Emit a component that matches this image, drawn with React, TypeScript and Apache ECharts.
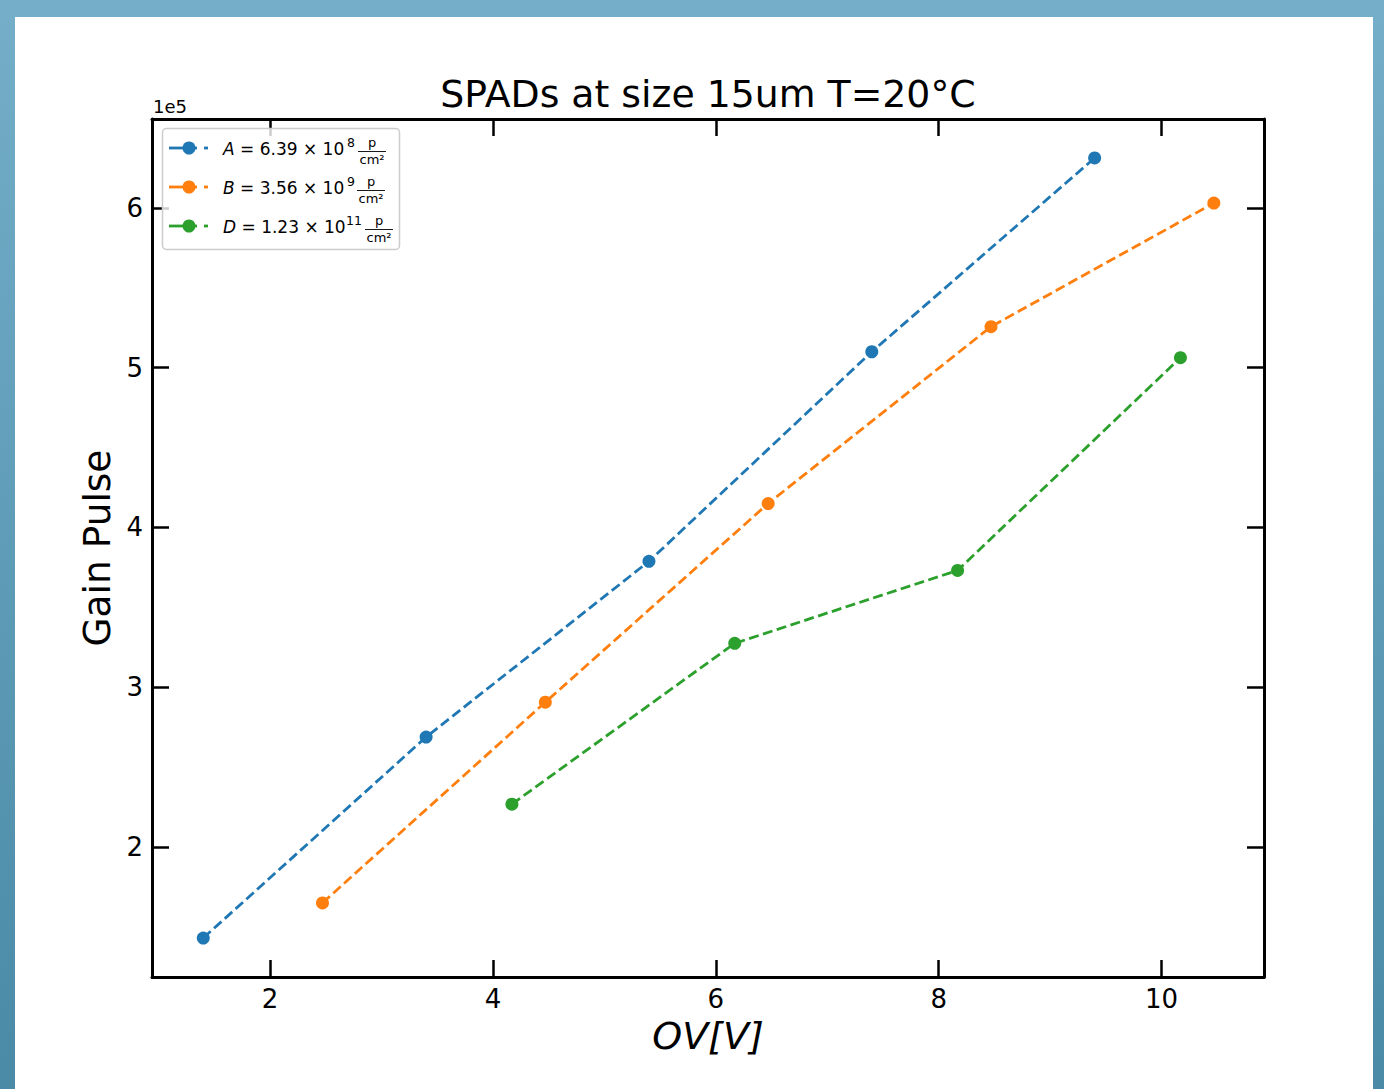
import React, { useEffect, useRef } from "react";
import * as echarts from "echarts";

const seriesNames = ["A", "B", "D"];
const colors = ["#1f77b4", "#ff7f0e", "#2ca02c"];
const xA = [1.4, 3.4, 5.4, 7.4, 9.4];
const yA = [143000, 268800, 378800, 510000, 631300];
const xB = [2.47, 4.47, 6.47, 8.47, 10.47];
const yB = [165000, 290600, 415000, 525700, 603100];
const xD = [4.17, 6.17, 8.17, 10.17];
const yD = [226800, 327500, 373100, 506300];
const xTicks = [2, 4, 6, 8, 10];
const yTicks = [200000, 300000, 400000, 500000, 600000];
const legendMantissa = ["6.39", "3.56", "1.23"];
const legendExponent = ["8", "9", "11"];

const FONT = "DejaVu Sans";

export default function App() {
  const ref = useRef<HTMLDivElement>(null);
  useEffect(() => {
    if (!ref.current) return;
    const chart = echarts.init(ref.current, null, { renderer: "svg" });
    const xs = [xA, xB, xD];
    const ys = [yA, yB, yD];
    const series: any[] = xs.map((xv, i) => ({
      name: seriesNames[i],
      type: "line",
      data: xv.map((x, j) => [x, ys[i][j]]),
      symbol: "circle",
      symbolSize: 13,
      showSymbol: true,
      itemStyle: { color: colors[i] },
      lineStyle: { color: colors[i], width: 2.8, type: [10, 4.5] },
      z: 3,
    }));

    const rowY = [148, 187, 226];
    const fracX = [372, 371, 379];
    const supX = [347, 347, 346];
    const legendEls: any[] = [
      {
        type: "rect",
        shape: { x: 162.5, y: 128.5, width: 237, height: 121, r: 4 },
        style: { fill: "rgba(255,255,255,0.8)", stroke: "#cccccc", lineWidth: 1.5 },
        z: 10,
      },
      {
        type: "text",
        left: 153,
        top: 97,
        style: { text: "1e5", font: `18px '${FONT}'`, fill: "#000" },
        z: 10,
      },
    ];
    rowY.forEach((y, i) => {
      legendEls.push(
        {
          type: "line",
          shape: { x1: 169, y1: y, x2: 197, y2: y },
          style: { stroke: colors[i], lineWidth: 2.8 },
          z: 11,
        },
        {
          type: "line",
          shape: { x1: 204, y1: y, x2: 208, y2: y },
          style: { stroke: colors[i], lineWidth: 2.8 },
          z: 11,
        },
        {
          type: "circle",
          shape: { cx: 189, cy: y, r: 6.5 },
          style: { fill: colors[i] },
          z: 12,
        },
        {
          type: "text",
          x: 223,
          y: y + 1,
          style: {
            text: `{it|${seriesNames[i]}} = ${legendMantissa[i]} × 10`,
            font: `17px '${FONT}'`,
            fill: "#000",
            verticalAlign: "middle",
            rich: { it: { fontStyle: "italic", fontFamily: FONT, fontSize: 17 } },
          },
          z: 12,
        },
        {
          type: "text",
          x: supX[i],
          y: y - 6,
          style: {
            text: legendExponent[i],
            font: `12.5px '${FONT}'`,
            fill: "#000",
            verticalAlign: "middle",
          },
          z: 12,
        },
        {
          type: "text",
          x: fracX[i],
          y: y - 6,
          style: {
            text: "p",
            font: `13px '${FONT}'`,
            fill: "#000",
            align: "center",
            verticalAlign: "middle",
          },
          z: 12,
        },
        {
          type: "line",
          shape: { x1: fracX[i] - 14, y1: y + 3.5, x2: fracX[i] + 14, y2: y + 3.5 },
          style: { stroke: "#000", lineWidth: 0.9 },
          z: 12,
        },
        {
          type: "text",
          x: fracX[i],
          y: y + 11,
          style: {
            text: "cm²",
            font: `13px '${FONT}'`,
            fill: "#000",
            align: "center",
            verticalAlign: "middle",
          },
          z: 12,
        }
      );
    });

    const axisCommon = {
      axisLine: { show: true, onZero: false, lineStyle: { color: "#000", width: 3 } },
      splitLine: { show: false },
    };

    chart.setOption({
      animation: false,
      backgroundColor: "transparent",
      title: {
        text: "SPADs at size 15um T=20°C",
        left: 708,
        top: 75,
        textAlign: "center",
        padding: 0,
        textStyle: { fontFamily: FONT, fontSize: 37.8, fontWeight: "normal", color: "#000" },
      },
      grid: { left: 152, top: 119, width: 1112, height: 858, containLabel: false },
      xAxis: [
        {
          type: "value",
          min: 0.94,
          max: 10.92,
          ...axisCommon,
          name: "OV[V]",
          nameLocation: "middle",
          nameGap: 40,
          nameTextStyle: { fontFamily: FONT, fontSize: 38, fontStyle: "italic", color: "#000" },
          axisTick: { show: true, inside: true, length: 17, customValues: xTicks, lineStyle: { color: "#000", width: 2.5 } },
          axisLabel: {
            show: true,
            customValues: xTicks,
            margin: 9,
            fontFamily: FONT,
            fontSize: 26,
            color: "#000",
            formatter: (v: number) => String(v),
          },
        },
        {
          type: "value",
          position: "top",
          min: 0.94,
          max: 10.92,
          ...axisCommon,
          axisTick: { show: true, inside: true, length: 17, customValues: xTicks, lineStyle: { color: "#000", width: 2.5 } },
          axisLabel: { show: false },
        },
      ],
      yAxis: [
        {
          type: "value",
          min: 118600,
          max: 655700,
          ...axisCommon,
          name: "Gain Pulse",
          nameLocation: "middle",
          nameGap: 35,
          nameRotate: 90,
          nameTextStyle: { fontFamily: FONT, fontSize: 37.5, color: "#000" },
          axisTick: { show: true, inside: true, length: 17, customValues: yTicks, lineStyle: { color: "#000", width: 2.5 } },
          axisLabel: {
            show: true,
            customValues: yTicks,
            margin: 9,
            fontFamily: FONT,
            fontSize: 26,
            color: "#000",
            formatter: (v: number) => String(Math.round(v / 1e5)),
          },
        },
        {
          type: "value",
          position: "right",
          min: 118600,
          max: 655700,
          ...axisCommon,
          axisTick: { show: true, inside: true, length: 17, customValues: yTicks, lineStyle: { color: "#000", width: 2.5 } },
          axisLabel: { show: false },
        },
      ],
      series,
      graphic: { elements: legendEls },
    });
    return () => chart.dispose();
  }, []);

  return (
    <div
      style={{
        position: "fixed",
        left: 0,
        top: 0,
        width: 1384,
        height: 1089,
        background:
          "linear-gradient(#ffffff, #ffffff) 15px 17px / 1358px 1072px no-repeat, linear-gradient(to bottom, #74aec9, #4a8aa6)",
      }}
    >
      <div ref={ref} style={{ width: 1384, height: 1089 }} />
    </div>
  );
}
